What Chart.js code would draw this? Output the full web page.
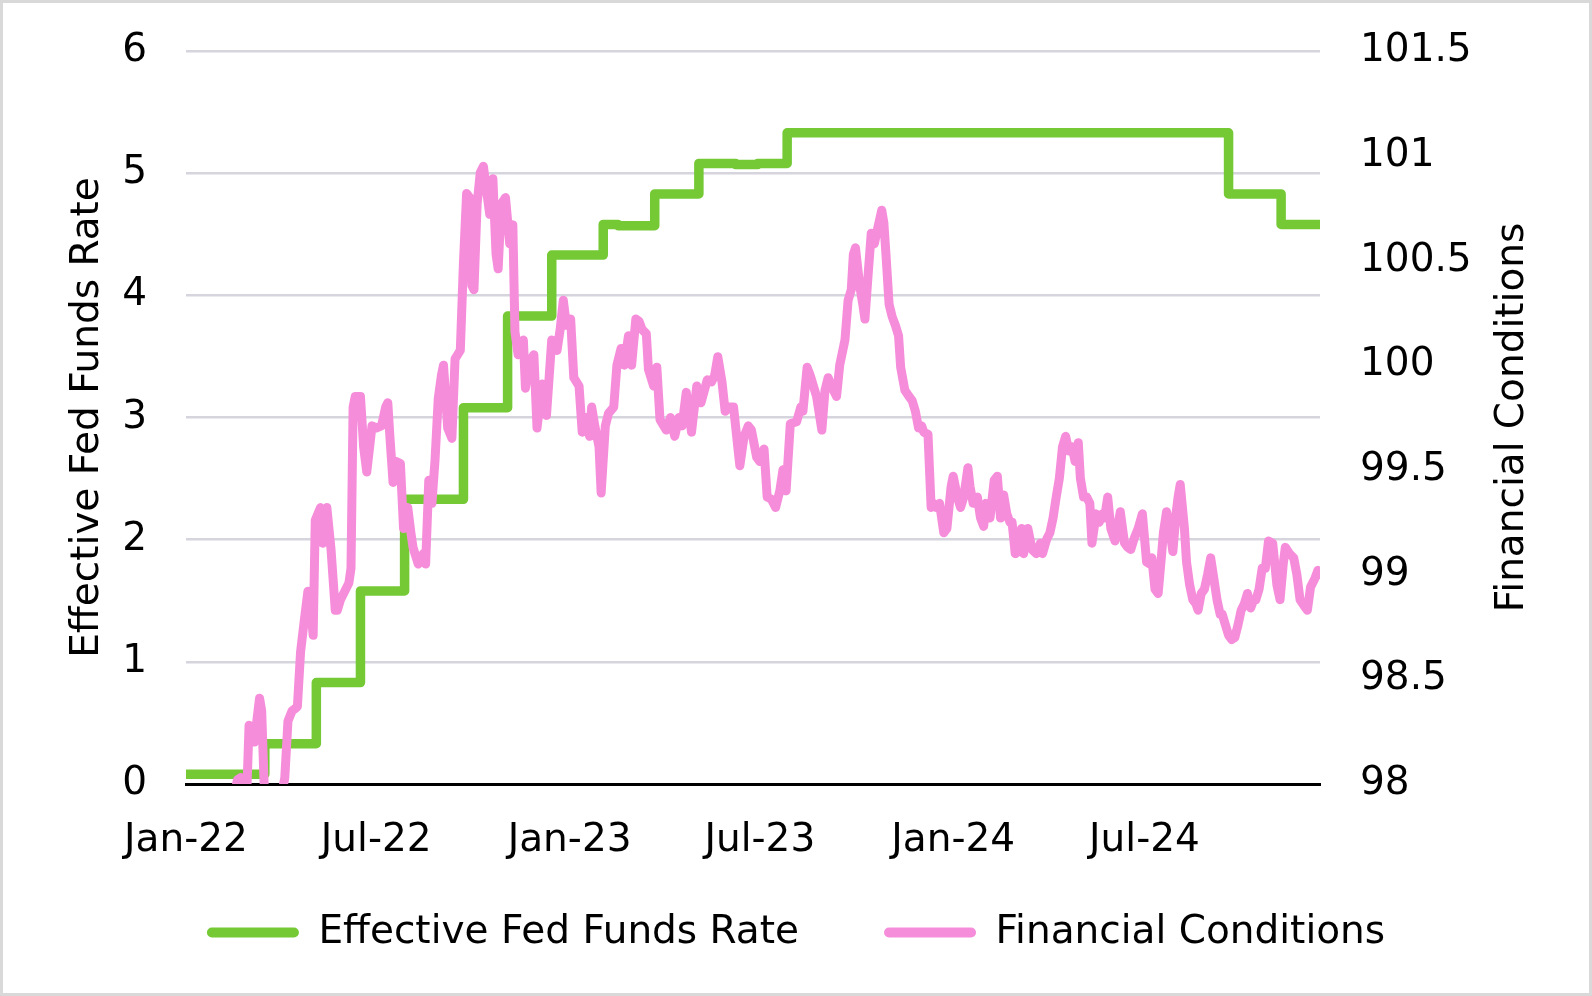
<!DOCTYPE html>
<html><head><meta charset="utf-8">
<script src="https://cdn.jsdelivr.net/npm/chart.js@4.4.0/dist/chart.umd.min.js"></script>
<style>
html,body{margin:0;padding:0;background:#fff;}
#wrap{position:relative;width:1592px;height:996px;overflow:hidden;}
#frame{position:absolute;left:0;top:0;width:1592px;height:996px;box-sizing:border-box;border:3px solid #d9d9d9;pointer-events:none;}
canvas{position:absolute;left:0;top:0;}
</style></head><body>
<div id="wrap"><canvas id="c" width="1592" height="996"></canvas><div id="frame"></div></div>
<script>
// ---- data ----
const xTickDates = ['2022-01-01','2022-07-01','2023-01-01','2023-07-01','2024-01-01','2024-07-01'];
const xTickLabels = ['Jan-22','Jul-22','Jan-23','Jul-23','Jan-24','Jul-24'];
const xStartDate = '2022-01-01';
const xEndDate = '2024-12-15';

const effrDates = ['2022-01-01','2022-03-17','2022-05-05','2022-06-16','2022-07-28','2022-09-22','2022-11-03','2022-12-15','2023-02-02','2023-02-16','2023-03-23','2023-05-04','2023-06-08','2023-06-29','2023-07-27','2024-09-19','2024-11-08','2024-12-15'];
const effrValues = [0.08,0.33,0.83,1.58,2.33,3.08,3.83,4.33,4.58,4.57,4.83,5.08,5.07,5.08,5.33,4.83,4.58,4.58];

// financial conditions index: x = days since 2022-01-01
const fciDays = [0,20,40,46,49,52,56,58,60,63,65,70,72,75,84,91,94,97,101,104,106,109,113,116,119,121,123,128,130,134,138,142,144,147,152,155,157,159,161,166,169,172,177,181,186,190,192,194,197,200,204,207,211,214,216,221,224,226,228,231,234,237,240,243,245,249,253,256,261,264,267,270,272,274,277,280,283,285,289,292,295,297,300,304,308,311,313,316,321,323,327,331,334,339,343,348,353,356,359,362,366,369,374,377,380,384,386,389,393,395,399,402,407,410,414,417,421,424,428,431,434,438,440,445,448,451,457,461,465,469,472,476,481,486,490,496,500,503,506,510,513,517,521,525,527,531,535,538,543,546,550,553,557,561,565,568,571,575,581,585,587,591,594,597,600,605,608,611,614,619,622,627,630,633,635,637,641,644,646,649,652,655,658,662,664,666,669,672,675,678,680,684,688,691,694,697,700,702,706,709,711,714,717,721,724,728,730,734,737,740,744,746,749,753,756,759,761,765,769,772,775,778,781,784,786,789,792,795,797,801,805,809,813,815,819,822,825,828,831,834,837,840,843,846,849,851,854,857,860,862,866,869,872,874,877,880,884,889,893,896,899,902,906,910,914,917,919,922,925,928,930,933,936,939,942,944,946,950,952,955,958,961,963,966,969,972,975,978,981,984,986,989,992,995,998,1001,1004,1007,1010,1013,1016,1018,1021,1024,1027,1030,1034,1038,1041,1044,1046,1050,1054,1057,1060,1064,1067,1070,1074,1077,1079];
const fciValues = [97.70,97.75,97.85,97.95,98.02,98.03,98.01,97.98,98.28,98.27,98.20,98.41,98.35,97.90,97.80,97.95,98.03,98.30,98.35,98.36,98.37,98.63,98.80,98.92,98.83,98.71,99.26,99.32,99.15,99.32,99.12,98.83,98.83,98.88,98.93,98.96,99.03,99.80,99.85,99.85,99.61,99.49,99.71,99.70,99.71,99.80,99.82,99.66,99.44,99.54,99.53,99.22,99.32,99.20,99.13,99.05,99.08,99.10,99.05,99.45,99.34,99.55,99.84,99.95,100.00,99.70,99.65,100.03,100.07,100.49,100.82,100.80,100.38,100.36,100.77,100.92,100.95,100.87,100.72,100.89,100.53,100.46,100.77,100.80,100.58,100.67,100.16,100.05,100.12,99.89,100.02,100.05,99.70,99.91,99.76,100.12,100.07,100.17,100.31,100.19,100.22,99.94,99.90,99.68,99.75,99.66,99.80,99.71,99.61,99.39,99.71,99.77,99.80,100.00,100.08,100.00,100.14,100.00,100.22,100.21,100.17,100.15,99.98,99.90,99.99,99.74,99.69,99.75,99.66,99.75,99.71,99.87,99.68,99.90,99.82,99.93,99.92,99.95,100.04,99.92,99.78,99.80,99.80,99.61,99.52,99.66,99.71,99.69,99.56,99.54,99.60,99.37,99.36,99.32,99.40,99.50,99.40,99.72,99.73,99.80,99.78,99.99,99.95,99.90,99.85,99.69,99.88,99.94,99.90,99.85,100.00,100.12,100.31,100.36,100.53,100.56,100.38,100.29,100.22,100.43,100.63,100.58,100.65,100.74,100.68,100.53,100.29,100.23,100.19,100.14,99.99,99.88,99.85,99.83,99.78,99.70,99.71,99.68,99.67,99.32,99.34,99.32,99.34,99.20,99.22,99.42,99.47,99.37,99.32,99.37,99.51,99.42,99.34,99.37,99.27,99.23,99.34,99.27,99.45,99.47,99.27,99.38,99.29,99.25,99.25,99.10,99.11,99.22,99.10,99.22,99.12,99.10,99.15,99.10,99.17,99.20,99.27,99.37,99.46,99.61,99.66,99.59,99.61,99.54,99.63,99.46,99.37,99.37,99.34,99.15,99.29,99.25,99.29,99.27,99.37,99.22,99.16,99.30,99.15,99.13,99.12,99.17,99.22,99.29,99.06,99.05,99.08,98.93,98.91,99.08,99.20,99.30,99.22,99.11,99.29,99.37,99.43,99.22,99.06,98.95,98.88,98.86,98.83,98.91,98.93,99.00,99.08,98.98,98.88,98.81,98.81,98.76,98.71,98.69,98.70,98.76,98.83,98.86,98.91,98.84,98.88,98.88,98.93,99.03,99.03,99.16,99.15,98.95,98.88,99.05,99.13,99.10,99.08,99.00,98.88,98.85,98.83,98.94,98.98,99.02,99.00];

const seriesNames = ['Effective Fed Funds Rate','Financial Conditions'];
const leftAxisTitle = 'Effective Fed Funds Rate';
const rightAxisTitle = 'Financial Conditions';

// ---- helpers ----
const dayOf = s => { const [y,m,d] = s.split('-').map(Number); return (Date.UTC(y,m-1,d) - Date.UTC(2022,0,1)) / 86400000; };
const xTickDays = xTickDates.map(dayOf);
const effrPoints = effrDates.map((d,i) => ({x: dayOf(d), y: effrValues[i]}));
const fciPoints = fciDays.map((d,i) => ({x: d, y: fciValues[i]}));

const FONT = '"DejaVu Sans"';
const FS = 39;
Chart.defaults.font.family = FONT;
Chart.defaults.font.size = FS;
Chart.defaults.color = '#000';

const rightTitlePlugin = {
  id: 'rightTitle',
  afterDraw(chart) {
    const ctx = chart.ctx, a = chart.chartArea, s = chart.scales.y1;
    ctx.save();
    ctx.translate(s.right - 79, (a.top + a.bottom) / 2);
    ctx.rotate(-Math.PI / 2);
    ctx.font = FS + 'px ' + FONT;
    ctx.fillStyle = '#000';
    ctx.textAlign = 'center';
    ctx.textBaseline = 'middle';
    ctx.fillText(rightAxisTitle, 0, 0);
    ctx.restore();
  }
};

const vFit = w => s => { s.width = w; s.paddingTop = 20; s.paddingBottom = 20; };

new Chart(document.getElementById('c'), {
  type: 'line',
  data: {
    datasets: [
      { label: seriesNames[0], data: effrPoints, yAxisID: 'y', borderColor: '#74C935', backgroundColor: '#74C935',
        borderWidth: 9.5, stepped: true, pointRadius: 0, fill: false, order: 1, borderJoinStyle: 'round' },
      { label: seriesNames[1], data: fciPoints, yAxisID: 'y1', borderColor: '#F68DDA', backgroundColor: '#F68DDA',
        borderWidth: 9, pointRadius: 0, fill: false, order: 0, borderJoinStyle: 'round', borderCapStyle: 'round', tension: 0 }
    ]
  },
  options: {
    responsive: false, animation: false, devicePixelRatio: 1,
    layout: { padding: { top: 51, bottom: 34, left: 0, right: 0 } },
    plugins: {
      tooltip: { enabled: false },
      legend: {
        position: 'bottom',
        labels: {
          font: { size: FS }, color: '#000', boxWidth: 92, boxHeight: 10, padding: 85,
          useBorderRadius: true, borderRadius: 5,
          sort: (a, b) => a.datasetIndex - b.datasetIndex,
          generateLabels: (chart) => Chart.defaults.plugins.legend.labels.generateLabels(chart)
            .map(it => Object.assign(it, { fillStyle: it.strokeStyle, lineWidth: 0 }))
        }
      }
    },
    scales: {
      x: {
        type: 'linear', min: dayOf(xStartDate), max: dayOf(xEndDate),
        afterBuildTicks: s => { s.ticks = xTickDays.map(v => ({ value: v })); },
        afterFit: s => { s.height = 44; s._computeLabelArea = () => undefined; },
        ticks: { autoSkip: false, maxRotation: 0, padding: 25, color: '#000',
          callback: v => { const i = xTickDays.indexOf(v); return i >= 0 ? xTickLabels[i] : ''; } },
        grid: { display: false },
        border: { display: true, color: '#000', width: 3 }
      },
      y: {
        position: 'left', min: 0, max: 6,
        afterFit: vFit(186),
        ticks: { stepSize: 1, padding: 39, color: '#000' },
        grid: { color: '#d6d5de', lineWidth: 2.5, drawTicks: false },
        border: { display: false },
        title: { display: true, text: leftAxisTitle, color: '#000', font: { size: FS }, padding: { top: 64, bottom: 0 } }
      },
      y1: {
        position: 'right', min: 98, max: 101.5,
        afterFit: vFit(272),
        ticks: { stepSize: 0.5, padding: 40, color: '#000', callback: v => String(v) },
        grid: { display: false, drawTicks: false },
        border: { display: false }
      }
    }
  },
  plugins: [rightTitlePlugin]
});
</script>
</body></html>
